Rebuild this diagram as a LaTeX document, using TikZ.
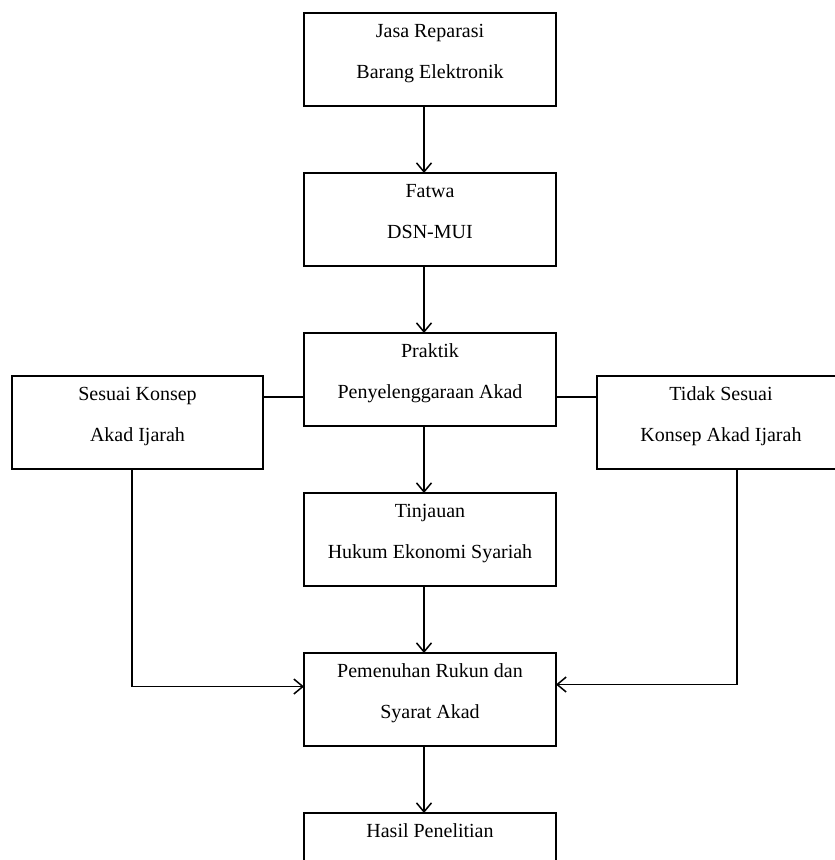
\documentclass[tikz,border=0pt]{standalone}
\usepackage{fontspec}
\setmainfont{Liberation Serif}
\usetikzlibrary{arrows.meta,positioning}
\tikzset{
  stage/.style={draw,line width=1.5pt,outer sep=0pt,inner sep=0pt,minimum width=252pt,minimum height=93pt,align=center,font=\fontsize{20}{41}\selectfont},
  flow/.style={line width=1.5pt,-{Straight Barb[length=9pt,width=15pt]}},
  link/.style={line width=1.5pt}
}
\def\twoline#1#2{\rule{0pt}{15pt}#1\\#2\rule[-19pt]{0pt}{0pt}}
\def\gap{67pt}

\begin{document}
\begin{tikzpicture}
  \clip (0,0) rectangle (835pt,-860pt);

  % Main column
  \node[stage] at (430pt,-59.5pt) (jasa) {\twoline{Jasa Reparasi}{Barang Elektronik}};
  \node[stage,below=\gap of jasa] (fatwa) {\twoline{Fatwa}{DSN-MUI}};
  \node[stage,below=\gap of fatwa] (praktik) {\twoline{Praktik}{Penyelenggaraan Akad}};
  \node[stage,below=\gap of praktik] (tinjauan) {\twoline{Tinjauan}{Hukum Ekonomi Syariah}};
  \node[stage,below=\gap of tinjauan] (pemenuhan) {\twoline{Pemenuhan Rukun dan}{Syarat Akad}};
  \node[stage,below=\gap of pemenuhan] (hasil) {\twoline{Hasil Penelitian}{}};

  % Side boxes
  \node[stage,minimum width=251pt,left=41pt of praktik,yshift=-43pt] (sesuai) {\twoline{Sesuai Konsep}{Akad Ijarah}};
  \node[stage,minimum width=248pt,right=41pt of praktik,yshift=-43pt] (tidak) {\twoline{Tidak Sesuai}{Konsep Akad Ijarah}};

  % Connectors
  \foreach \a/\b in {jasa/fatwa,fatwa/praktik,praktik/tinjauan,tinjauan/pemenuhan,pemenuhan/hasil}
    \draw[flow] ([xshift=-6pt]\a.south) -- ([xshift=-6pt]\b.north);
  \draw[link] ([yshift=-17.5pt]praktik.west) -- ([yshift=-17.5pt]praktik.west -| sesuai.east);
  \draw[link] ([yshift=-17.5pt]praktik.east) -- ([yshift=-17.5pt]praktik.east -| tidak.west);
  \draw[flow] ([xshift=-5.5pt]sesuai.south) |- ([yshift=13pt]pemenuhan.west);
  \draw[flow] ([xshift=16pt]tidak.south) |- ([yshift=15pt]pemenuhan.east);
\end{tikzpicture}
\end{document}
